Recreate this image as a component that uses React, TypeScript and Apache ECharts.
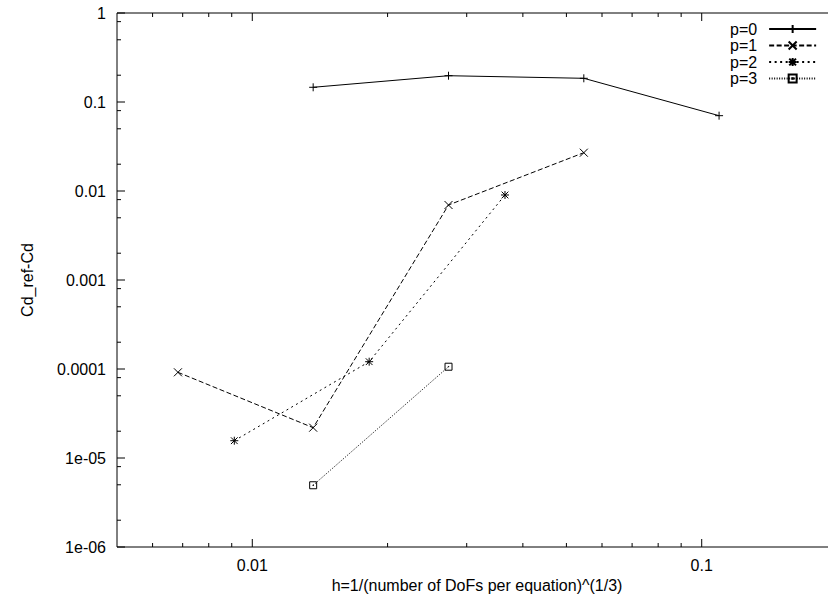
import React, { useEffect, useRef } from "react";
import * as echarts from "echarts";

// ---- data ----
const SERIES_NAMES = ["p=0", "p=1", "p=2", "p=3"];
const P0_X = [0.01366, 0.02733, 0.05466, 0.1093];
const P0_Y = [0.1463, 0.1974, 0.1846, 0.0702];
const P1_X = [0.006832, 0.01366, 0.02733, 0.05466];
const P1_Y = [9.18e-5, 2.19e-5, 0.00696, 0.02694];
const P2_X = [0.00912, 0.0182, 0.0365];
const P2_Y = [1.564e-5, 1.208e-4, 0.00902];
const P3_X = [0.01366, 0.02733];
const P3_Y = [4.94e-6, 1.061e-4];

const X_MIN = 0.005;
const X_MAX = 0.2;
const Y_MIN = 1e-6;
const Y_MAX = 1;

const X_MAJOR_TICKS = [0.01, 0.1];
const X_MINOR_TICKS = [0.006, 0.007, 0.008, 0.009, 0.02, 0.03, 0.04, 0.05, 0.06, 0.07, 0.08, 0.09];
const Y_MAJOR_TICKS = [1e-6, 1e-5, 1e-4, 1e-3, 1e-2, 1e-1, 1];
const Y_MINOR_MULT = [2, 5, 8];
const Y_DECADES = [1e-6, 1e-5, 1e-4, 1e-3, 1e-2, 1e-1];

const FONT = "Liberation Sans, Arial, Helvetica, sans-serif";

const SYM_PLUS = "path://M5,0V10M0,5H10";
const SYM_CROSS = "path://M0,0L10,10M10,0L0,10";
const SYM_STAR = "path://M5,0V10M0,5H10M0.8,0.8L9.2,9.2M9.2,0.8L0.8,9.2";
const SYM_BOX = "path://M0,0H10V10H0ZM4.6,4.6H5.4V5.4H4.6Z";

function fmtLog(v: number): string {
  const lg = Math.log10(v);
  const e = Math.round(lg);
  if (Math.abs(lg - e) > 1e-6) return "";
  if (e >= 0) return String(Math.pow(10, e));
  if (e >= -4) return Math.pow(10, e).toFixed(-e);
  return "1e-" + String(-e).padStart(2, "0");
}

function zip(xs: number[], ys: number[]) {
  return xs.map((x, i) => [x, ys[i]]);
}

export default function App() {
  const ref = useRef<HTMLDivElement>(null);
  useEffect(() => {
    if (!ref.current) return;
    const chart = echarts.init(ref.current, undefined, { renderer: "svg" });

    const tickData: number[][] = [];
    X_MAJOR_TICKS.forEach((x) => tickData.push([x, Y_MIN, 0]));
    X_MINOR_TICKS.forEach((x) => tickData.push([x, Y_MIN, 1]));
    Y_MAJOR_TICKS.forEach((y) => tickData.push([X_MIN, y, 2]));
    Y_DECADES.forEach((d) => Y_MINOR_MULT.forEach((m) => tickData.push([X_MIN, d * m, 3])));

    const lineSeries = (name: string, data: number[][], symbol: string, size: number, dash: any, fill: string) => ({
      name,
      type: "line",
      data,
      symbol,
      symbolSize: size,
      showSymbol: true,
      lineStyle: { color: "#000", width: 1, type: dash },
      itemStyle: { color: fill, borderColor: "#000", borderWidth: 1 },
      emphasis: { disabled: true },
      z: 3,
    });

    const tickStyle = { stroke: "#000", lineWidth: 1 };

    chart.setOption({
      animation: false,
      backgroundColor: "#fff",
      grid: {
        left: 117,
        top: 13,
        right: -9,
        bottom: 59,
        show: true,
        borderColor: "#000",
        borderWidth: 1,
        backgroundColor: "transparent",
        outerBoundsMode: "none",
      },
      legend: {
        data: SERIES_NAMES,
        orient: "vertical",
        left: 730,
        top: 21,
        padding: 0,
        align: "right",
        itemWidth: 47,
        itemHeight: 10,
        itemGap: 0.5,
        selectedMode: false,
        textStyle: {
          fontFamily: FONT,
          fontSize: 16,
          color: "#000",
          lineHeight: 16,
          padding: [0, 7, 0, 0],
        },
      },
      xAxis: {
        type: "log",
        logBase: 10,
        min: X_MIN,
        max: X_MAX,
        name: "h=1/(number of DoFs per equation)^(1/3)",
        nameLocation: "middle",
        nameGap: 30,
        nameTextStyle: { fontFamily: FONT, fontSize: 16, color: "#000" },
        axisLine: { show: false },
        axisTick: { show: false },
        splitLine: { show: false },
        minorTick: { show: false },
        axisLabel: {
          fontFamily: FONT,
          fontSize: 16,
          color: "#000",
          margin: 10,
          showMinLabel: false,
          showMaxLabel: false,
          formatter: (v: number) => fmtLog(v),
        },
      },
      yAxis: {
        type: "log",
        logBase: 10,
        min: Y_MIN,
        max: Y_MAX,
        splitNumber: 6,
        name: "Cd_ref-Cd",
        nameLocation: "middle",
        nameGap: 82,
        nameTextStyle: { fontFamily: FONT, fontSize: 16, color: "#000" },
        axisLine: { show: false },
        axisTick: { show: false },
        splitLine: { show: false },
        axisLabel: {
          fontFamily: FONT,
          fontSize: 16,
          color: "#000",
          margin: 11,
          formatter: (v: number) => fmtLog(v),
        },
      },
      series: [
        lineSeries("p=0", zip(P0_X, P0_Y), SYM_PLUS, 8, "solid", "#000"),
        lineSeries("p=1", zip(P1_X, P1_Y), SYM_CROSS, 8, [5, 2.5], "#000"),
        lineSeries("p=2", zip(P2_X, P2_Y), SYM_STAR, 8, [2, 3.5], "#000"),
        lineSeries("p=3", zip(P3_X, P3_Y), SYM_BOX, 7, [1, 1.5], "rgba(255,255,255,0)"),
        {
          type: "custom",
          silent: true,
          clip: false,
          z: 5,
          data: tickData,
          renderItem: (_params: any, api: any) => {
            const x = api.value(0);
            const y = api.value(1);
            const kind = api.value(2);
            if (kind < 2) {
              const len = kind === 0 ? 8 : 4;
              const b = api.coord([x, Y_MIN]);
              const t = api.coord([x, Y_MAX]);
              return {
                type: "group",
                children: [
                  { type: "line", shape: { x1: b[0], y1: b[1], x2: b[0], y2: b[1] - len }, style: tickStyle },
                  { type: "line", shape: { x1: t[0], y1: t[1], x2: t[0], y2: t[1] + len }, style: tickStyle },
                ],
              };
            }
            const len = kind === 2 ? 8 : 4;
            const l = api.coord([X_MIN, y]);
            return { type: "line", shape: { x1: l[0], y1: l[1], x2: l[0] + len, y2: l[1] }, style: tickStyle };
          },
        },
      ],
    });
    return () => chart.dispose();
  }, []);

  return (
    <div
      ref={ref}
      style={{ position: "absolute", left: 0, top: 0, width: 828, height: 606, overflow: "hidden", background: "#fff" }}
    />
  );
}
